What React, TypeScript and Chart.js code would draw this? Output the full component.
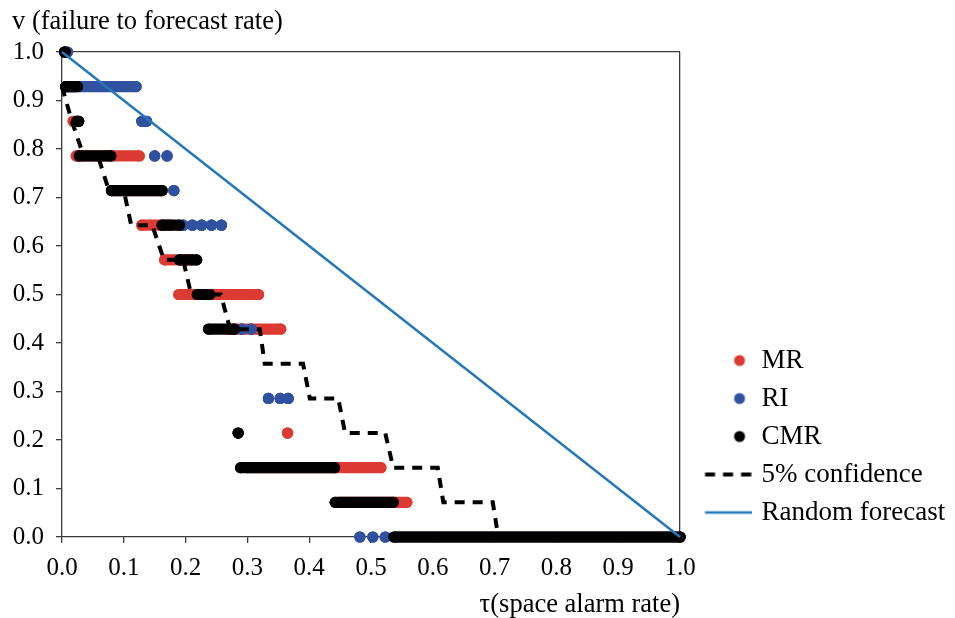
import React, { useEffect, useRef } from "react";
import { Chart, registerables } from "chart.js";

Chart.register(...registerables);

const FONT = "'Liberation Serif', 'Times New Roman', serif";
const RED = "#dc3a33";
const RI_BLUE = "#2f51a0";
const LINE_BLUE = "#2478b9";
const AXIS = "#3a3a3a";

const seriesLabels = ["MR", "RI", "CMR", "5% confidence", "Random forecast"];

// Runs of alarm rates sharing one failure rate: [tau from, tau to, nu]
const mrRuns: number[][] = [
  [0.004, 0.004, 1.0],
  [0.006, 0.02, 0.9286],
  [0.018, 0.027, 0.8571],
  [0.023, 0.125, 0.7857],
  [0.08, 0.16, 0.7143],
  [0.129, 0.175, 0.6429],
  [0.166, 0.21, 0.5714],
  [0.189, 0.318, 0.5],
  [0.27, 0.354, 0.4286],
  [0.365, 0.365, 0.2143],
  [0.3, 0.516, 0.1429],
  [0.45, 0.558, 0.0714],
  [0.54, 1.0, 0],
];

const riRuns: number[][] = [
  [0.006, 0.009, 1.0],
  [0.006, 0.12, 0.9286],
  [0.129, 0.137, 0.8571],
  [0.15, 0.15, 0.7857],
  [0.17, 0.17, 0.7857],
  [0.181, 0.181, 0.7143],
  [0.196, 0.196, 0.6429],
  [0.211, 0.211, 0.6429],
  [0.226, 0.226, 0.6429],
  [0.242, 0.242, 0.6429],
  [0.258, 0.258, 0.6429],
  [0.291, 0.291, 0.4286],
  [0.306, 0.306, 0.4286],
  [0.334, 0.334, 0.2857],
  [0.353, 0.353, 0.2857],
  [0.366, 0.366, 0.2857],
  [0.482, 0.482, 0],
  [0.503, 0.503, 0],
  [0.523, 0.523, 0],
  [0.54, 1.0, 0],
];

const cmrRuns: number[][] = [
  [0.004, 0.005, 1.0],
  [0.006, 0.025, 0.9286],
  [0.024, 0.027, 0.8571],
  [0.028, 0.079, 0.7857],
  [0.08, 0.162, 0.7143],
  [0.162, 0.19, 0.6429],
  [0.19, 0.218, 0.5714],
  [0.219, 0.239, 0.5],
  [0.237, 0.279, 0.4286],
  [0.285, 0.285, 0.2143],
  [0.289, 0.441, 0.1429],
  [0.442, 0.536, 0.0714],
  [0.537, 1.0, 0],
];

const confidenceTau = [
  0, 0.016, 0.035, 0.058, 0.076, 0.1, 0.112, 0.146, 0.165, 0.196, 0.209,
  0.257, 0.272, 0.32, 0.328, 0.39, 0.401, 0.447, 0.458, 0.523, 0.536, 0.608,
  0.617, 0.697, 0.706, 1.0,
];
const confidenceNu = [
  0.9286, 0.8571, 0.7857, 0.7857, 0.7143, 0.7143, 0.6429, 0.6429, 0.5714,
  0.5714, 0.5, 0.5, 0.4286, 0.4286, 0.3571, 0.3571, 0.2857, 0.2857, 0.2143,
  0.2143, 0.1429, 0.1429, 0.0714, 0.0714, 0, 0,
];

const randomTau = [0, 1];
const randomNu = [1, 0];

function runsToPoints(runs: number[][]) {
  const pts: { x: number; y: number | null }[] = [];
  runs.forEach(([a, b, v]) => {
    pts.push({ x: a, y: v }, { x: b, y: v }, { x: b, y: null });
  });
  return pts;
}

function markerImage(color: string | null, dash: number[] | null, lineColor: string | null, lineWidth: number) {
  const c = document.createElement("canvas");
  c.width = 64;
  c.height = 16;
  const g = c.getContext("2d")!;
  if (color) {
    g.fillStyle = color;
    g.beginPath();
    g.arc(52, 8, 5.5, 0, Math.PI * 2);
    g.fill();
  }
  if (lineColor) {
    g.strokeStyle = lineColor;
    g.lineWidth = lineWidth;
    if (dash) g.setLineDash(dash);
    g.beginPath();
    g.moveTo(17.5, 8);
    g.lineTo(64, 8);
    g.stroke();
  }
  return c;
}

// lets the legend box reach the canvas edge after layout so long labels are not clipped
const legendRoom = {
  id: "legendRoom",
  afterLayout(ch: any) {
    const lg = ch.legend;
    if (lg) {
      lg.right = ch.width;
      lg.width = lg.right - lg.left;
    }
  },
};

export default function App() {
  const ref = useRef<HTMLCanvasElement | null>(null);

  useEffect(() => {
    document.body.style.margin = "0";
    const canvas = ref.current;
    if (!canvas) return;

    const images = [
      markerImage(RED, null, null, 0),
      markerImage(RI_BLUE, null, null, 0),
      markerImage("#000", null, null, 0),
      markerImage(null, [10, 8], "#000", 4),
      markerImage(null, null, LINE_BLUE, 2.5),
    ];

    const runDataset = (label: string, runs: number[][], color: string, order: number) => ({
      label,
      data: runsToPoints(runs),
      showLine: true,
      spanGaps: false,
      borderColor: color,
      borderWidth: 11.2,
      borderCapStyle: "round",
      borderJoinStyle: "round",
      pointRadius: 5.6,
      pointHoverRadius: 5.6,
      pointBackgroundColor: color,
      pointBorderWidth: 0,
      clip: false,
      order,
    });

    const chart = new Chart(canvas, {
      type: "scatter",
      data: {
        datasets: [
          runDataset(seriesLabels[0], mrRuns, RED, 4),
          runDataset(seriesLabels[1], riRuns, RI_BLUE, 3),
          runDataset(seriesLabels[2], cmrRuns, "#000", 2),
          {
            label: seriesLabels[3],
            data: confidenceTau.map((x, i) => ({ x, y: confidenceNu[i] })),
            showLine: true,
            borderColor: "#000",
            borderWidth: 4,
            borderDash: [10, 8],
            pointRadius: 0,
            clip: false,
            order: 1,
          },
          {
            label: seriesLabels[4],
            data: randomTau.map((x, i) => ({ x, y: randomNu[i] })),
            showLine: true,
            borderColor: LINE_BLUE,
            borderWidth: 2.5,
            pointRadius: 0,
            clip: false,
            order: 0,
          },
        ] as any,
      },
      plugins: [legendRoom],
      options: {
        animation: false,
        responsive: false,
        events: [],
        layout: { padding: { left: 12, right: 52.3, top: 0, bottom: 0 } },
        plugins: {
          tooltip: { enabled: false },
          title: {
            display: true,
            text: "v (failure to forecast rate)",
            align: "start",
            color: "#000",
            font: { family: FONT, size: 26.5, weight: "normal" },
            padding: { top: 6, bottom: 14.2 },
          },
          legend: {
            display: true,
            position: "right",
            align: "end",
            fullSize: false,
            labels: {
              usePointStyle: true,
              pointStyleWidth: 57,
              padding: 11,
              color: "#000",
              font: { family: FONT, size: 27 },
              generateLabels: (ch: any) =>
                ch.data.datasets.map((ds: any, i: number) => ({
                  text: ds.label,
                  pointStyle: images[i],
                  fillStyle: "rgba(0,0,0,0)",
                  strokeStyle: "rgba(0,0,0,0)",
                  lineWidth: 0,
                  fontColor: "#000",
                  hidden: false,
                  datasetIndex: i,
                })),
            },
          },
        },
        scales: {
          x: {
            type: "linear",
            position: "bottom",
            min: 0,
            max: 1,
            afterFit: (s: any) => {
              s.height = 81;
            },
            ticks: {
              stepSize: 0.1,
              padding: 10,
              color: "#000",
              font: { family: FONT, size: 25 },
              callback: (v: any) => Number(v).toFixed(1),
              maxRotation: 0,
            },
            grid: {
              display: true,
              drawOnChartArea: true,
              drawTicks: true,
              tickLength: 6,
              lineWidth: 1.3,
              color: (c: any) => (c.tick && c.tick.value === 1 ? AXIS : "rgba(0,0,0,0)"),
              tickColor: AXIS,
            },
            border: { display: true, color: AXIS, width: 1.3 },
            title: {
              display: true,
              text: "τ(space alarm rate)",
              align: "end",
              color: "#000",
              font: { family: FONT, size: 26.5 },
              padding: { top: 0, bottom: -3 },
            },
          },
          y: {
            type: "linear",
            position: "left",
            min: 0,
            max: 1,
            afterFit: (s: any) => {
              s.width = 50;
            },
            ticks: {
              stepSize: 0.1,
              padding: 12,
              color: "#000",
              font: { family: FONT, size: 25 },
              callback: (v: any) => Number(v).toFixed(1),
            },
            grid: {
              display: true,
              drawOnChartArea: true,
              drawTicks: true,
              tickLength: 6,
              lineWidth: 1.3,
              color: (c: any) => (c.tick && c.tick.value === 1 ? AXIS : "rgba(0,0,0,0)"),
              tickColor: AXIS,
            },
            border: { display: true, color: AXIS, width: 1.3 },
          },
        },
      } as any,
    });

    return () => chart.destroy();
  }, []);

  return (
    <div style={{ width: 955, height: 618, background: "#fff" }}>
      <canvas ref={ref} width={955} height={618} style={{ display: "block" }} />
    </div>
  );
}
